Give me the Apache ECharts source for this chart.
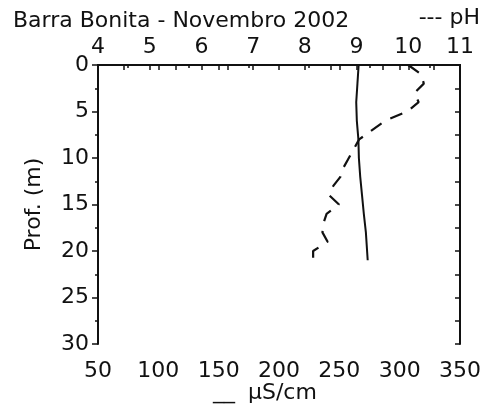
<!DOCTYPE html>
<html>
<head>
<meta charset="utf-8">
<script src="https://cdn.jsdelivr.net/npm/echarts@6/dist/echarts.min.js"></script>
<style>html,body{margin:0;padding:0;background:#fff}#c{width:485px;height:410px}</style>
</head>
<body>
<div id="c"></div>
<script>
// Conductivity (µS/cm) profile
var condDepth = [0, 2, 4, 6, 8, 10, 12, 14, 16, 18, 21];
var condValue = [266, 265, 264, 264.5, 265.8, 266.2, 267.3, 268.8, 270.3, 272, 273.5];
// pH profile
var phDepth = [0, 1, 2, 3, 4, 5, 6, 7, 8, 9, 10, 11, 12, 13, 14, 15, 16, 17, 18, 19, 20, 21];
var phValue = [10.0, 10.25, 10.3, 10.12, 10.2, 9.98, 9.55, 9.3, 9.05, 8.95, 8.85, 8.75, 8.69, 8.55, 8.47, 8.66, 8.42, 8.36, 8.34, 8.44, 8.16, 8.16];
// Axis ticks
var condTicks = [50, 100, 150, 200, 250, 300, 350];
var phTicks = [4, 5, 6, 7, 8, 9, 10, 11];
var depthTicks = [0, 5, 10, 15, 20, 25, 30];

var FONT = 'DejaVu Sans';
var fs = 22;
var ink = '#111';

var chart = echarts.init(document.getElementById('c'), null, {renderer: 'canvas'});
var axisLine = {show: true, lineStyle: {color: ink, width: 2}};
chart.setOption({
  animation: false,
  backgroundColor: '#fff',
  title: {
    text: 'Barra Bonita - Novembro 2002',
    left: 8, top: 5,
    textStyle: {fontFamily: FONT, fontSize: fs, fontWeight: 'normal', color: ink}
  },
  graphic: [
    {type: 'text', right: 5, top: 7, style: {text: '--- pH', font: fs + 'px "' + FONT + '"', fill: ink}},
    {type: 'text', left: 213, top: 381, style: {text: '__', font: fs + 'px "' + FONT + '"', fill: ink}},
    {type: 'text', left: 248, top: 382, style: {text: 'µS/cm', font: fs + 'px "' + FONT + '"', fill: ink}}
  ],
  grid: {left: 98, right: 25, top: 65, bottom: 66, containLabel: false},
  xAxis: [
    {
      type: 'value', position: 'bottom', min: condTicks[0], max: condTicks[condTicks.length - 1], interval: 50,
      axisLine: axisLine,
      axisTick: {show: true, inside: false, length: 5, lineStyle: {color: ink, width: 1.5}},
      minorTick: {show: true, splitNumber: 2, length: 3, lineStyle: {color: ink, width: 1.5}},
      splitLine: {show: false},
      axisLabel: {fontFamily: FONT, fontSize: fs, color: ink, margin: 16}
    },
    {
      type: 'value', position: 'top', min: phTicks[0], max: phTicks[phTicks.length - 1], interval: 1,
      axisLine: axisLine,
      axisTick: {show: true, inside: true, length: 5, lineStyle: {color: ink, width: 1.5}},
      minorTick: {show: true, splitNumber: 2, length: 5, lineStyle: {color: ink, width: 1.5}},
      splitLine: {show: false},
      axisLabel: {fontFamily: FONT, fontSize: fs, color: ink, margin: 7}
    }
  ],
  yAxis: [
    {
      type: 'value', position: 'left', inverse: true, min: depthTicks[0], max: depthTicks[depthTicks.length - 1], interval: 5,
      name: 'Prof. (m)', nameLocation: 'middle', nameGap: 53, nameRotate: 90,
      nameTextStyle: {fontFamily: FONT, fontSize: fs, color: ink},
      axisLine: axisLine,
      axisTick: {show: true, inside: false, length: 6, lineStyle: {color: ink, width: 1.5}},
      minorTick: {show: true, splitNumber: 2, length: 3, lineStyle: {color: ink, width: 1.5}},
      splitLine: {show: false},
      axisLabel: {fontFamily: FONT, fontSize: fs, color: ink, margin: 9}
    },
    {
      type: 'value', position: 'right', inverse: true, min: 0, max: 30, interval: 2.5,
      axisLine: axisLine,
      axisTick: {show: true, inside: true, length: 5, lineStyle: {color: ink, width: 1.5}},
      splitLine: {show: false},
      axisLabel: {show: false}
    }
  ],
  series: [
    {
      type: 'line', xAxisIndex: 0, yAxisIndex: 0, symbol: 'none', smooth: false,
      lineStyle: {color: ink, width: 2},
      data: condDepth.map(function (d, i) { return [condValue[i], d]; })
    },
    {
      type: 'line', xAxisIndex: 1, yAxisIndex: 0, symbol: 'none', smooth: false,
      lineStyle: {color: ink, width: 2.2, type: [13, 10]},
      data: phDepth.map(function (d, i) { return [phValue[i], d]; })
    }
  ]
});
</script>
</body>
</html>
